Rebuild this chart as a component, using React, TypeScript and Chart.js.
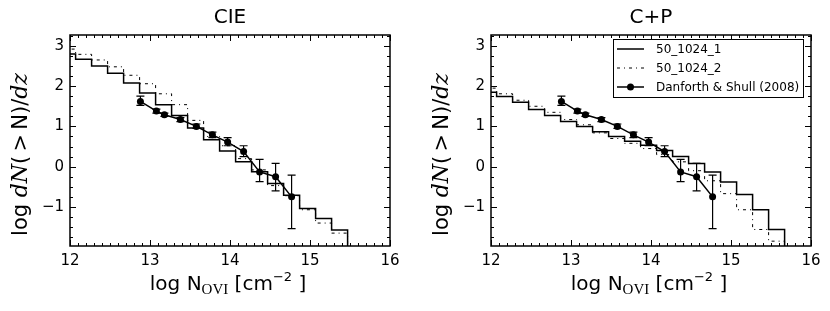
import React, { useEffect, useRef } from 'react';
import { Chart, registerables } from 'chart.js';

Chart.register(...registerables);

// ---------- data ----------
const edgesCIE = [11.87, 12.07, 12.27, 12.47, 12.67, 12.87, 13.07, 13.27, 13.47, 13.67, 13.87, 14.07, 14.27, 14.47, 14.67, 14.87, 15.07, 15.27, 15.47];
const cieRun1 = [2.8, 2.67, 2.5, 2.32, 2.08, 1.83, 1.54, 1.27, 0.96, 0.67, 0.39, 0.125, -0.125, -0.42, -0.71, -1.04, -1.29, -1.57];
const cieRun2 = [2.92, 2.79, 2.65, 2.48, 2.27, 2.06, 1.81, 1.54, 1.15, 0.75, 0.52, 0.2, -0.08, -0.47, -0.72, -1.07, -1.4, -1.65];

const edgesCP = [11.87, 12.07, 12.27, 12.47, 12.67, 12.87, 13.07, 13.27, 13.47, 13.67, 13.87, 14.07, 14.27, 14.47, 14.67, 14.87, 15.07, 15.27, 15.47, 15.67];
const cpRun1 = [1.85, 1.74, 1.6, 1.42, 1.27, 1.12, 1.0, 0.87, 0.75, 0.63, 0.53, 0.4, 0.25, 0.08, -0.13, -0.38, -0.69, -1.07, -1.56];
const cpRun2 = [1.95, 1.81, 1.65, 1.5, 1.35, 1.17, 1.04, 0.84, 0.7, 0.58, 0.45, 0.3, 0.12, -0.1, -0.35, -0.67, -1.07, -1.56, -1.85];

const dsX = [12.88, 13.08, 13.18, 13.38, 13.58, 13.78, 13.97, 14.17, 14.37, 14.57, 14.77];
const dsY = [1.62, 1.38, 1.29, 1.17, 1.0, 0.79, 0.61, 0.375, -0.13, -0.25, -0.75];
const dsLo = [1.52, 1.33, 1.25, 1.12, 0.95, 0.72, 0.52, 0.25, -0.37, -0.6, -1.54];
const dsHi = [1.75, 1.43, 1.33, 1.22, 1.06, 0.86, 0.72, 0.52, 0.18, 0.08, -0.21];

const xTickValues = [12, 13, 14, 15, 16];
const yTickValues = [-1, 0, 1, 2, 3];
const legendLabels = ['50_1024_1', '50_1024_2', 'Danforth & Shull (2008)'];
const panelTitles = ['CIE', 'C+P'];

const X_MIN = 12, X_MAX = 16, Y_MIN = -1.97, Y_MAX = 3.27;
const DASHDOT = [3, 4, 1, 4];
const SANS = 'DejaVu Sans';

function stepPoints(edges: number[], vals: number[]) {
  const pts = vals.map((v, i) => ({ x: edges[i], y: v }));
  pts.push({ x: edges[edges.length - 1], y: Y_MIN - 2 });
  return pts;
}

type Seg = { t: string; f: string; dy?: number };
function drawSegs(ctx: CanvasRenderingContext2D, segs: Seg[], cx: number, by: number) {
  let total = 0;
  for (const s of segs) { ctx.font = s.f; total += ctx.measureText(s.t).width; }
  let x = cx - total / 2;
  ctx.textAlign = 'left';
  ctx.textBaseline = 'alphabetic';
  for (const s of segs) {
    ctx.font = s.f;
    ctx.fillText(s.t, x, by + (s.dy || 0));
    x += ctx.measureText(s.t).width;
  }
}

const framePlugin = {
  id: 'frameTicks',
  afterDatasetsDraw(chart: any) {
    const { ctx, chartArea: a, scales } = chart;
    const xs = scales.x, ys = scales.y;
    ctx.save();
    ctx.strokeStyle = '#000';
    ctx.lineWidth = 1;
    ctx.beginPath();
    for (let i = 0; i <= 40; i++) {
      const v = X_MIN + i * 0.1;
      const px = Math.round(xs.getPixelForValue(v)) + 0.5;
      const len = i % 10 === 0 ? 6 : 3;
      ctx.moveTo(px, a.bottom); ctx.lineTo(px, a.bottom - len);
      ctx.moveTo(px, a.top); ctx.lineTo(px, a.top + len);
    }
    for (let i = -7; i <= 13; i++) {
      const v = i * 0.25;
      if (v < Y_MIN || v > Y_MAX) continue;
      const py = Math.round(ys.getPixelForValue(v)) + 0.5;
      const len = i % 4 === 0 ? 6 : 3;
      ctx.moveTo(a.left, py); ctx.lineTo(a.left + len, py);
      ctx.moveTo(a.right, py); ctx.lineTo(a.right - len, py);
    }
    ctx.stroke();
    ctx.lineWidth = 1.5;
    ctx.strokeRect(a.left, a.top, a.right - a.left, a.bottom - a.top);

    ctx.fillStyle = '#000';
    // panel title
    const idx = chart.options.plugins.panelInfo.idx;
    ctx.font = `20px ${SANS}`;
    ctx.textAlign = 'center';
    ctx.textBaseline = 'alphabetic';
    ctx.fillText(panelTitles[idx], (a.left + a.right) / 2, 23);

    // axis titles
    const S = 20;
    drawSegs(ctx, [
      { t: 'log N', f: `${S}px ${SANS}` },
      { t: 'OVI', f: `15px "Liberation Serif"`, dy: 4 },
      { t: ' [cm', f: `${S}px ${SANS}` },
      { t: '\u22122', f: `13px ${SANS}`, dy: -9 },
      { t: ' ]', f: `${S}px ${SANS}` },
    ], (a.left + a.right) / 2 - 2, 290);

    ctx.save();
    ctx.translate(a.left - 43, (a.top + a.bottom) / 2 + 14);
    ctx.rotate(-Math.PI / 2);
    const T = 21;
    drawSegs(ctx, [
      { t: 'log ', f: `${T}px ${SANS}` },
      { t: 'd', f: `italic ${T + 1}px "DejaVu Serif"` },
      { t: 'N', f: `italic ${T + 1}px "DejaVu Serif"` },
      { t: '(\u2009>\u2009N)/', f: `${T}px ${SANS}` },
      { t: 'dz', f: `italic ${T + 1}px "DejaVu Serif"` },
    ], 0, 0);
    ctx.restore();
    ctx.restore();
  },
};

const errorBarPlugin = {
  id: 'errorBars',
  afterDatasetsDraw(chart: any) {
    const { ctx, scales } = chart;
    const xs = scales.x, ys = scales.y;
    ctx.save();
    ctx.strokeStyle = '#000';
    ctx.lineWidth = 1.2;
    ctx.beginPath();
    dsX.forEach((xv, i) => {
      const px = xs.getPixelForValue(xv);
      const lo = ys.getPixelForValue(dsLo[i]);
      const hi = ys.getPixelForValue(dsHi[i]);
      ctx.moveTo(px, lo); ctx.lineTo(px, hi);
      ctx.moveTo(px - 4, lo); ctx.lineTo(px + 4, lo);
      ctx.moveTo(px - 4, hi); ctx.lineTo(px + 4, hi);
    });
    ctx.stroke();
    ctx.restore();
  },
};

const legendPlugin = {
  id: 'boxLegend',
  afterDraw(chart: any) {
    if (chart.options.plugins.panelInfo.idx !== 1) return;
    const { ctx, chartArea: a } = chart;
    const right = a.right - 8, top = a.top + 4;
    const w = 190, h = 58;
    const left = right - w;
    ctx.save();
    ctx.fillStyle = '#fff';
    ctx.fillRect(left, top, w, h);
    ctx.strokeStyle = '#000';
    ctx.lineWidth = 1;
    ctx.strokeRect(left + 0.5, top + 0.5, w, h);
    const rows = [top + 10, top + 29, top + 48];
    ctx.font = `12px ${SANS}`;
    ctx.textBaseline = 'middle';
    ctx.textAlign = 'left';
    rows.forEach((ry, i) => {
      ctx.beginPath();
      ctx.lineWidth = i === 1 ? 1 : 1.5;
      ctx.setLineDash(i === 1 ? DASHDOT : []);
      ctx.moveTo(left + 4, ry); ctx.lineTo(left + 31, ry);
      ctx.stroke();
      ctx.setLineDash([]);
      if (i === 2) {
        ctx.beginPath();
        ctx.fillStyle = '#000';
        ctx.arc(left + 17.5, ry, 3.5, 0, Math.PI * 2);
        ctx.fill();
      }
      ctx.fillStyle = '#000';
      ctx.fillText(legendLabels[i], left + 43, ry + 1);
    });
    ctx.restore();
  },
};

function makeConfig(idx: number) {
  const edges = idx === 0 ? edgesCIE : edgesCP;
  const r1 = idx === 0 ? cieRun1 : cpRun1;
  const r2 = idx === 0 ? cieRun2 : cpRun2;
  const axisW = idx === 0 ? 70 : 76;
  const padR = idx === 0 ? 25 : 19;
  return {
    type: 'line',
    data: {
      datasets: [
        {
          label: legendLabels[0],
          data: stepPoints(edges, r1),
          stepped: 'before',
          borderColor: '#000',
          borderWidth: 1.5,
          pointRadius: 0,
          fill: false,
        },
        {
          label: legendLabels[1],
          data: stepPoints(edges, r2),
          stepped: 'before',
          borderColor: '#000',
          borderWidth: 1,
          borderDash: DASHDOT,
          pointRadius: 0,
          fill: false,
        },
        {
          label: legendLabels[2],
          data: dsX.map((x, i) => ({ x, y: dsY[i] })),
          borderColor: '#000',
          backgroundColor: '#000',
          borderWidth: 1.5,
          pointRadius: 3.5,
          pointBorderWidth: 0,
          tension: 0,
          fill: false,
        },
      ],
    },
    options: {
      responsive: false,
      animation: false,
      events: [],
      layout: { padding: { left: 0, right: padR, top: 35, bottom: 0 } },
      plugins: {
        legend: { display: false },
        tooltip: { enabled: false },
        title: { display: false },
        panelInfo: { idx },
      },
      scales: {
        x: {
          type: 'linear',
          min: X_MIN,
          max: X_MAX,
          afterBuildTicks: (s: any) => { s.ticks = xTickValues.map((v) => ({ value: v })); },
          afterFit: (s: any) => { s.height = 65; },
          grid: { display: false, drawTicks: false },
          border: { display: false },
          ticks: {
            padding: 6,
            color: '#000',
            autoSkip: false,
            maxRotation: 0,
            font: { family: SANS, size: 15 },
            callback: (v: any) => String(v),
          },
        },
        y: {
          type: 'linear',
          min: Y_MIN,
          max: Y_MAX,
          afterBuildTicks: (s: any) => { s.ticks = yTickValues.map((v) => ({ value: v })); },
          afterFit: (s: any) => { s.width = axisW; },
          grid: { display: false, drawTicks: false },
          border: { display: false },
          ticks: {
            padding: 6,
            color: '#000',
            font: { family: SANS, size: 15 },
            callback: (v: any) => (v < 0 ? '\u2212' + Math.abs(v) : String(v)),
          },
        },
      },
    },
    plugins: [errorBarPlugin, framePlugin, legendPlugin],
  };
}

function Panel({ idx }: { idx: number }) {
  const ref = useRef<HTMLCanvasElement | null>(null);
  useEffect(() => {
    if (!ref.current) return;
    const chart = new Chart(ref.current, makeConfig(idx) as any);
    return () => chart.destroy();
  }, [idx]);
  return (
    <canvas
      ref={ref}
      width={415}
      height={311}
      style={{ position: 'absolute', left: idx * 415, top: 0, width: 415, height: 311 }}
    />
  );
}

export default function App() {
  return (
    <div style={{ position: 'absolute', left: 0, top: 0, width: 830, height: 311, background: '#fff' }}>
      <Panel idx={0} />
      <Panel idx={1} />
    </div>
  );
}
